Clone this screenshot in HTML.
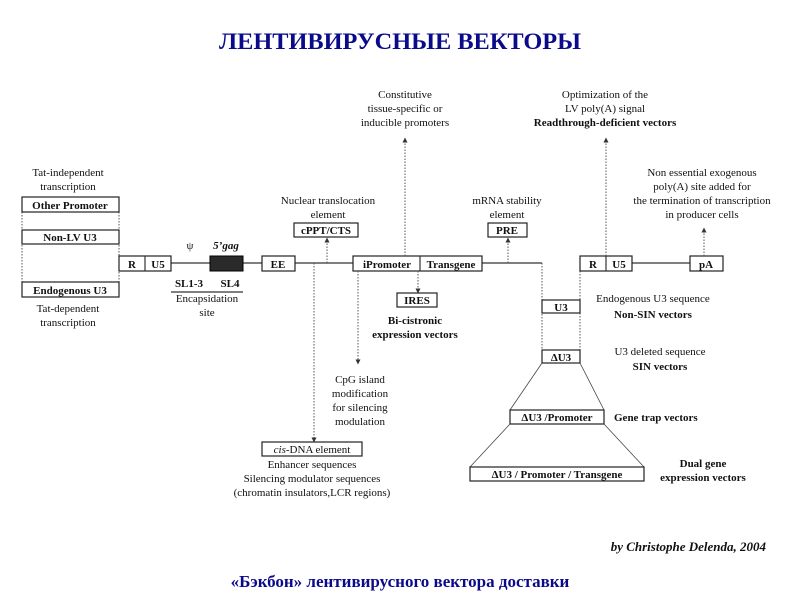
<!DOCTYPE html>
<html><head><meta charset="utf-8"><style>
html,body{margin:0;padding:0;background:#fff;}
svg{display:block;}
text{font-family:"Liberation Serif",serif;font-size:11px;fill:#111;}
.b{font-weight:bold;}
.bx{fill:#fff;stroke:#222;stroke-width:1.2;}
.ln{stroke:#333;stroke-width:1.2;fill:none;}
.dt{stroke:#555;stroke-width:1;stroke-dasharray:1.5,1.5;fill:none;}
.th{stroke:#444;stroke-width:0.8;fill:none;}
</style></head><body>
<svg width="800" height="600" viewBox="0 0 800 600" xmlns="http://www.w3.org/2000/svg">
<defs><marker id="a" markerWidth="5" markerHeight="5" refX="2.5" refY="2.5" orient="auto"><path d="M0,0 L5,2.5 L0,5z" fill="#333"/></marker></defs>
<text x="400" y="49" text-anchor="middle" textLength="362" lengthAdjust="spacingAndGlyphs" style="font-size:23px;fill:#0a0a8a;font-weight:bold;">ЛЕНТИВИРУСНЫЕ ВЕКТОРЫ</text>

<!-- left promoter column -->
<text x="68" y="176" text-anchor="middle">Tat-independent</text>
<text x="68" y="190" text-anchor="middle">transcription</text>
<line class="dt" x1="22" y1="212" x2="22" y2="282"/><line class="dt" x1="119" y1="212" x2="119" y2="282"/>
<rect class="bx" x="22" y="197" width="97" height="15"/><text class="b" x="70" y="209" text-anchor="middle">Other Promoter</text>
<rect class="bx" x="22" y="230" width="97" height="14"/><text class="b" x="70" y="241" text-anchor="middle">Non-LV U3</text>
<rect class="bx" x="22" y="282" width="97" height="15"/><text class="b" x="70" y="294" text-anchor="middle">Endogenous  U3</text>
<text x="68" y="312" text-anchor="middle">Tat-dependent</text>
<text x="68" y="326" text-anchor="middle">transcription</text>

<!-- main backbone -->
<line class="ln" x1="171" y1="263" x2="542" y2="263"/>
<line class="ln" x1="632" y1="263" x2="690" y2="263"/>
<rect class="bx" x="119" y="256" width="52" height="15"/><line class="ln" x1="145" y1="256" x2="145" y2="271"/>
<text class="b" x="132" y="268" text-anchor="middle">R</text><text class="b" x="158" y="268" text-anchor="middle">U5</text>
<text x="190" y="249" text-anchor="middle">ψ</text>
<text class="b" x="226" y="249" text-anchor="middle" font-style="italic">5’gag</text>
<rect x="210" y="256" width="33" height="15" fill="#2a2a2a" stroke="#000"/>
<text class="b" x="189" y="287" text-anchor="middle">SL1-3</text><text class="b" x="230" y="287" text-anchor="middle">SL4</text>
<line class="ln" x1="171" y1="292" x2="243" y2="292"/>
<text x="207" y="302" text-anchor="middle">Encapsidation</text>
<text x="207" y="316" text-anchor="middle">site</text>
<rect class="bx" x="262" y="256" width="33" height="15"/><text class="b" x="278" y="268" text-anchor="middle">EE</text>

<text x="328" y="204" text-anchor="middle">Nuclear translocation</text>
<text x="328" y="218" text-anchor="middle">element</text>
<rect class="bx" x="294" y="223" width="64" height="14"/><text class="b" x="326" y="234" text-anchor="middle">cPPT/CTS</text>
<line class="dt" x1="327" y1="263" x2="327" y2="240" marker-end="url(#a)"/>
<line class="dt" x1="314" y1="263" x2="314" y2="440" marker-end="url(#a)"/>
<rect class="bx" x="262" y="442" width="100" height="14"/>
<text x="312" y="453" text-anchor="middle"><tspan font-style="italic">cis</tspan>-DNA element</text>
<text x="312" y="468" text-anchor="middle">Enhancer sequences</text>
<text x="312" y="482" text-anchor="middle">Silencing modulator sequences</text>
<text x="312" y="496" text-anchor="middle">(chromatin insulators,LCR regions)</text>

<rect class="bx" x="353" y="256" width="129" height="15"/><line class="ln" x1="420" y1="256" x2="420" y2="271"/>
<text class="b" x="387" y="268" text-anchor="middle">iPromoter</text><text class="b" x="451" y="268" text-anchor="middle">Transgene</text>
<line class="dt" x1="358" y1="271" x2="358" y2="362" marker-end="url(#a)"/>
<text x="360" y="383" text-anchor="middle">CpG island</text>
<text x="360" y="397" text-anchor="middle">modification</text>
<text x="360" y="411" text-anchor="middle">for silencing</text>
<text x="360" y="425" text-anchor="middle">modulation</text>

<text x="405" y="98" text-anchor="middle">Constitutive</text>
<text x="405" y="112" text-anchor="middle">tissue-specific or</text>
<text x="405" y="126" text-anchor="middle">inducible promoters</text>
<line class="dt" x1="405" y1="256" x2="405" y2="140" marker-end="url(#a)"/>

<line class="dt" x1="418" y1="271" x2="418" y2="291" marker-end="url(#a)"/>
<rect class="bx" x="397" y="293" width="40" height="14"/><text class="b" x="417" y="304" text-anchor="middle">IRES</text>
<text class="b" x="415" y="324" text-anchor="middle">Bi-cistronic</text>
<text class="b" x="415" y="338" text-anchor="middle">expression vectors</text>

<text x="507" y="204" text-anchor="middle">mRNA stability</text>
<text x="507" y="218" text-anchor="middle">element</text>
<rect class="bx" x="488" y="223" width="39" height="14"/><text class="b" x="507" y="234" text-anchor="middle">PRE</text>
<line class="dt" x1="508" y1="263" x2="508" y2="240" marker-end="url(#a)"/>

<!-- right LTR -->
<line class="dt" x1="542" y1="263" x2="542" y2="350"/>
<line class="dt" x1="580" y1="271" x2="580" y2="350"/>
<rect class="bx" x="580" y="256" width="52" height="15"/><line class="ln" x1="606" y1="256" x2="606" y2="271"/>
<text class="b" x="593" y="268" text-anchor="middle">R</text><text class="b" x="619" y="268" text-anchor="middle">U5</text>
<rect class="bx" x="690" y="256" width="33" height="15"/><text class="b" x="706" y="268" text-anchor="middle">pA</text>

<text x="605" y="98" text-anchor="middle">Optimization of the</text>
<text x="605" y="112" text-anchor="middle">LV poly(A) signal</text>
<text class="b" x="605" y="126" text-anchor="middle">Readthrough-deficient vectors</text>
<line class="dt" x1="606" y1="256" x2="606" y2="140" marker-end="url(#a)"/>

<text x="702" y="176" text-anchor="middle">Non essential exogenous</text>
<text x="702" y="190" text-anchor="middle">poly(A) site added for</text>
<text x="702" y="204" text-anchor="middle">the termination of transcription</text>
<text x="702" y="218" text-anchor="middle">in producer cells</text>
<line class="dt" x1="704" y1="256" x2="704" y2="230" marker-end="url(#a)"/>

<rect class="bx" x="542" y="300" width="38" height="13"/><text class="b" x="561" y="311" text-anchor="middle">U3</text>
<text x="653" y="302" text-anchor="middle">Endogenous U3 sequence</text>
<text class="b" x="653" y="318" text-anchor="middle">Non-SIN vectors</text>
<rect class="bx" x="542" y="350" width="38" height="13"/><text class="b" x="561" y="361" text-anchor="middle">ΔU3</text>
<text x="660" y="355" text-anchor="middle">U3 deleted sequence</text>
<text class="b" x="660" y="370" text-anchor="middle">SIN vectors</text>

<line class="th" x1="542" y1="363" x2="510" y2="410"/><line class="th" x1="580" y1="363" x2="604" y2="410"/>
<rect class="bx" x="510" y="410" width="94" height="14"/><text class="b" x="557" y="421" text-anchor="middle">ΔU3 /Promoter</text>
<text class="b" x="614" y="421">Gene trap vectors</text>
<line class="th" x1="510" y1="424" x2="470" y2="467"/><line class="th" x1="604" y1="424" x2="644" y2="467"/>
<rect class="bx" x="470" y="467" width="174" height="14"/><text class="b" x="557" y="478" text-anchor="middle">ΔU3 / Promoter / Transgene</text>
<text class="b" x="703" y="467" text-anchor="middle">Dual gene</text>
<text class="b" x="703" y="481" text-anchor="middle">expression  vectors</text>

<text class="b" x="766" y="551" text-anchor="end" font-style="italic" style="font-size:13px">by Christophe Delenda, 2004</text>
<text x="400" y="587" text-anchor="middle" style="font-size:17px;font-weight:bold;fill:#0a0a8a;">«Бэкбон» лентивирусного вектора доставки</text>
</svg>
</body></html>
